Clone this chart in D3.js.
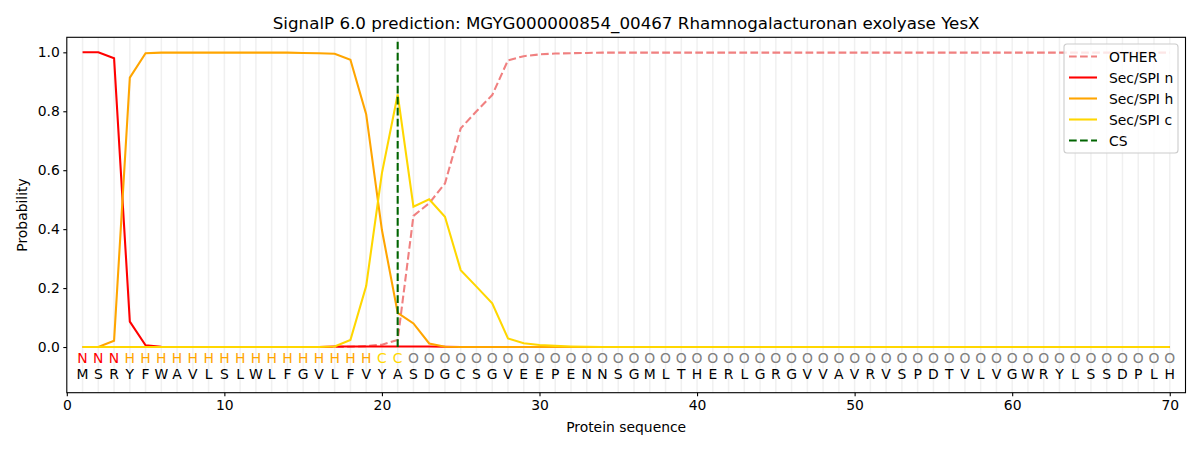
<html>
<head>
<script src="https://cdn.jsdelivr.net/npm/d3@7"></script>
<style>
  body { margin: 0; background: #fff; }
  text { font-family: "DejaVu Sans", sans-serif; }
</style>
</head>
<body>
<svg id="chart" width="1200" height="450"></svg>
<script>
// sequence and per-residue labels
var residues = "MSRYFWAVLSLWLFGVLFVYASDGCSGVEEPENNSGMLTHERLGRGVVAVRVSPDTVLVGWRYLSSDPLH".split("");
var labels = "NNNHHHHHHHHHHHHHHHHCC".split("").concat(d3.range(49).map(function () { return "O"; }));

// probabilities, positions 1..70
var other = [0,0,0,0,0,0,0,0,0,0,0,0,0,0,0,0,0,0.001,0.003,0.008,0.024,0.445,0.488,0.555,0.742,0.80,0.855,0.973,0.987,0.993,0.996,0.997,0.998,0.999,0.999,0.999,0.999,0.999,0.999,0.999,
  0.999,0.999,0.999,0.999,0.999,0.999,0.999,0.999,0.999,0.999,0.999,0.999,0.999,0.999,0.999,0.999,0.999,0.999,0.999,0.999,0.999,0.999,0.999,0.999,0.999,0.999,0.999,0.999,0.999,0.999];
var secN = [1.0,1.0,0.98,0.086,0.006,0.001,0,0,0,0,0,0,0,0,0,0,0.002,0.002,0.002,0.002,0.002,0.002,0.002,0.001,0,0,0,0,0,0,
  0,0,0,0,0,0,0,0,0,0,0,0,0,0,0,0,0,0,0,0,0,0,0,0,0,0,0,0,0,0,0,0,0,0,0,0,0,0,0,0];
var secH = [0,0,0.021,0.914,0.997,0.999,0.999,0.999,0.999,0.999,0.999,0.999,0.999,0.999,0.998,0.997,0.995,0.975,0.79,0.397,0.116,0.08,0.012,0.001,0,0,0,0,0,0,
  0,0,0,0,0,0,0,0,0,0,0,0,0,0,0,0,0,0,0,0,0,0,0,0,0,0,0,0,0,0,0,0,0,0,0,0,0,0,0,0];
var secC = [0,0,0,0,0,0,0,0,0,0,0,0,0,0,0,0,0.002,0.024,0.207,0.59,0.857,0.476,0.501,0.442,0.261,0.205,0.148,0.029,0.013,0.007,
  0.004,0.002,0.001,0,0,0,0,0,0,0,0,0,0,0,0,0,0,0,0,0,0,0,0,0,0,0,0,0,0,0,0,0,0,0,0,0,0,0,0,0];
var csPos = 21;

var lw = 2.08;
var dashed = (3.7 * lw) + "," + (1.6 * lw);

var series = [
  {name: "OTHER", values: other, color: "#f08080", dash: dashed},
  {name: "Sec/SPI n", values: secN, color: "#ff0000", dash: null},
  {name: "Sec/SPI h", values: secH, color: "#ffa500", dash: null},
  {name: "Sec/SPI c", values: secC, color: "#ffd700", dash: null}
];
var labelColor = {N: "#ff0000", H: "#ffa500", C: "#ffd700", O: "#808080"};

var svg = d3.select("#chart");
var mLeft = 66.8, mRight = 1185.5, mTop = 37.3, mBottom = 392.7;

var x = d3.scaleLinear().domain([0, 71]).range([mLeft, mRight]);
var y = d3.scaleLinear().domain([-0.155, 1.051]).range([mBottom, mTop]);

// light vertical guides at every residue
svg.append("g").selectAll("line").data(d3.range(1, residues.length + 1)).enter()
  .append("line")
  .attr("x1", function (d) { return x(d); }).attr("x2", function (d) { return x(d); })
  .attr("y1", mTop).attr("y2", mBottom)
  .attr("stroke", "#ebebeb").attr("stroke-width", 1.5).attr("opacity", 0.7);

var line = d3.line()
  .x(function (d, i) { return x(i + 1); })
  .y(function (d) { return y(d); });

series.forEach(function (s) {
  svg.append("path").datum(s.values)
    .attr("d", line)
    .attr("fill", "none")
    .attr("stroke", s.color)
    .attr("stroke-width", lw)
    .attr("stroke-dasharray", s.dash);
});

// cleavage site
svg.append("line")
  .attr("x1", x(csPos)).attr("x2", x(csPos))
  .attr("y1", y(0)).attr("y2", y(1.036))
  .attr("stroke", "#006400").attr("stroke-width", lw).attr("stroke-dasharray", dashed);

// residue letters and region labels
svg.append("g").selectAll("text").data(labels).enter()
  .append("text")
  .attr("x", function (d, i) { return x(i + 1); })
  .attr("y", y(-0.055))
  .attr("text-anchor", "middle")
  .attr("font-size", 13.9)
  .attr("fill", function (d) { return labelColor[d]; })
  .text(function (d) { return d; });

svg.append("g").selectAll("text").data(residues).enter()
  .append("text")
  .attr("x", function (d, i) { return x(i + 1); })
  .attr("y", y(-0.107))
  .attr("text-anchor", "middle")
  .attr("font-size", 13.9)
  .attr("fill", "#000")
  .text(function (d) { return d; });

// axes
var xAxis = d3.axisBottom(x).tickValues([0, 10, 20, 30, 40, 50, 60, 70]).tickSize(3.5).tickPadding(3.5);
var yAxis = d3.axisLeft(y).tickValues([0, 0.2, 0.4, 0.6, 0.8, 1.0]).tickFormat(d3.format(".1f")).tickSize(3.5).tickPadding(3.5);

var gx = svg.append("g").attr("transform", "translate(0," + mBottom + ")").call(xAxis);
var gy = svg.append("g").attr("transform", "translate(" + mLeft + ",0)").call(yAxis);
[gx, gy].forEach(function (g) {
  g.select(".domain").remove();
  g.selectAll("text").attr("font-size", 13.9).attr("fill", "#000").style("font-family", "DejaVu Sans, sans-serif");
  g.selectAll("line").attr("stroke", "#000").attr("stroke-width", 1.1);
});

svg.append("rect")
  .attr("x", mLeft).attr("y", mTop)
  .attr("width", mRight - mLeft).attr("height", mBottom - mTop)
  .attr("fill", "none").attr("stroke", "#000").attr("stroke-width", 1.1);

// titles
svg.append("text").attr("x", (mLeft + mRight) / 2).attr("y", 29)
  .attr("text-anchor", "middle").attr("font-size", 16.7)
  .text("SignalP 6.0 prediction: MGYG000000854_00467 Rhamnogalacturonan exolyase YesX");
svg.append("text").attr("x", (mLeft + mRight) / 2).attr("y", 432)
  .attr("text-anchor", "middle").attr("font-size", 13.9)
  .text("Protein sequence");
svg.append("text")
  .attr("transform", "translate(27," + ((mTop + mBottom) / 2) + ") rotate(-90)")
  .attr("text-anchor", "middle").attr("font-size", 13.9)
  .text("Probability");

// legend
var legendItems = series.map(function (s) { return {name: s.name, color: s.color, dash: s.dash}; })
  .concat([{name: "CS", color: "#006400", dash: dashed}]);
var lg = svg.append("g").attr("transform", "translate(1064,44)");
lg.append("rect").attr("width", 114).attr("height", 109).attr("rx", 3)
  .attr("fill", "#fff").attr("fill-opacity", 0.8).attr("stroke", "#cccccc").attr("stroke-width", 1.1);
legendItems.forEach(function (d, i) {
  var yy = 12.5 + i * 21;
  lg.append("line").attr("x1", 5).attr("x2", 33).attr("y1", yy).attr("y2", yy)
    .attr("stroke", d.color).attr("stroke-width", lw).attr("stroke-dasharray", d.dash);
  lg.append("text").attr("x", 45).attr("y", yy + 5).attr("font-size", 13.9).text(d.name);
});
</script>
</body>
</html>
